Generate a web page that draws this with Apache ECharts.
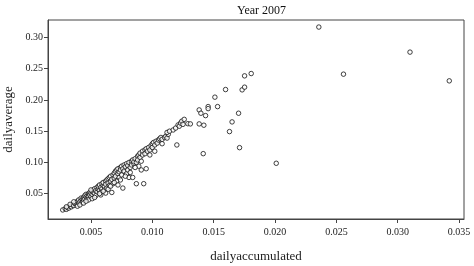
<!DOCTYPE html>
<html>
<head>
<meta charset="utf-8">
<script src="https://cdn.jsdelivr.net/npm/echarts@6/dist/echarts.min.js"></script>
<style>
  html, body { margin: 0; padding: 0; background: #fff; }
  #chart { width: 474px; height: 266px; }
</style>
</head>
<body>
<div id="chart"></div>
<script>
// main band of days, [dailyaccumulated, dailyaverage]
var clusterPoints = [
  [0.0027, 0.024], [0.0029, 0.026], [0.0030, 0.025], [0.0031, 0.028], [0.0032, 0.027],
  [0.0033, 0.030], [0.0034, 0.029], [0.0035, 0.032], [0.0033, 0.033], [0.0030, 0.029],
  [0.0036, 0.031], [0.0037, 0.034], [0.0038, 0.033], [0.0038, 0.036], [0.0039, 0.038],
  [0.0040, 0.035], [0.0040, 0.040], [0.0041, 0.037], [0.0042, 0.039], [0.0042, 0.043],
  [0.0043, 0.041], [0.0043, 0.036], [0.0044, 0.044], [0.0044, 0.040], [0.0045, 0.042],
  [0.0045, 0.047], [0.0039, 0.030], [0.0041, 0.032], [0.0036, 0.037], [0.0044, 0.035],
  [0.0046, 0.045], [0.0046, 0.049], [0.0047, 0.043], [0.0047, 0.047], [0.0048, 0.050],
  [0.0048, 0.046], [0.0049, 0.052], [0.0049, 0.048], [0.0050, 0.051], [0.0050, 0.045],
  [0.0051, 0.054], [0.0051, 0.049], [0.0052, 0.056], [0.0052, 0.052], [0.0053, 0.050],
  [0.0053, 0.058], [0.0054, 0.055], [0.0054, 0.047], [0.0055, 0.060], [0.0055, 0.053],
  [0.0048, 0.040], [0.0051, 0.042], [0.0046, 0.038], [0.0050, 0.056], [0.0053, 0.044],
  [0.0056, 0.057], [0.0056, 0.062], [0.0057, 0.055], [0.0057, 0.064], [0.0058, 0.060],
  [0.0058, 0.052], [0.0059, 0.066], [0.0059, 0.058], [0.0060, 0.063], [0.0060, 0.068],
  [0.0061, 0.061], [0.0061, 0.056], [0.0062, 0.070], [0.0062, 0.065], [0.0063, 0.072],
  [0.0063, 0.059], [0.0064, 0.067], [0.0064, 0.074], [0.0065, 0.063], [0.0065, 0.076],
  [0.0058, 0.048], [0.0062, 0.051], [0.0060, 0.054], [0.0064, 0.057], [0.0057, 0.050],
  [0.0066, 0.070], [0.0066, 0.078], [0.0067, 0.052], [0.0067, 0.073], [0.0068, 0.080],
  [0.0068, 0.066], [0.0069, 0.075], [0.0069, 0.083], [0.0070, 0.078], [0.0070, 0.086],
  [0.0071, 0.070], [0.0071, 0.088], [0.0072, 0.082], [0.0072, 0.090], [0.0073, 0.085],
  [0.0073, 0.076], [0.0074, 0.092], [0.0074, 0.088], [0.0075, 0.080], [0.0075, 0.094],
  [0.0076, 0.059], [0.0072, 0.064], [0.0066, 0.062], [0.0069, 0.068], [0.0074, 0.072],
  [0.0076, 0.090], [0.0077, 0.096], [0.0077, 0.086], [0.0078, 0.093], [0.0079, 0.098],
  [0.0079, 0.082], [0.0080, 0.095], [0.0080, 0.088], [0.0081, 0.076], [0.0081, 0.100],
  [0.0082, 0.092], [0.0083, 0.102], [0.0083, 0.096], [0.0084, 0.076], [0.0084, 0.104],
  [0.0085, 0.098], [0.0085, 0.101], [0.0087, 0.066], [0.0078, 0.078], [0.0082, 0.084],
  [0.0086, 0.106], [0.0087, 0.100], [0.0088, 0.110], [0.0088, 0.104], [0.0089, 0.112],
  [0.0090, 0.108], [0.0090, 0.115], [0.0091, 0.088], [0.0092, 0.118], [0.0092, 0.112],
  [0.0093, 0.066], [0.0094, 0.120], [0.0094, 0.114], [0.0095, 0.090], [0.0095, 0.122],
  [0.0089, 0.094], [0.0086, 0.092], [0.0091, 0.102],
  [0.0096, 0.118], [0.0097, 0.124], [0.0098, 0.120], [0.0099, 0.127], [0.0100, 0.130],
  [0.0100, 0.124], [0.0101, 0.132], [0.0102, 0.128], [0.0103, 0.134], [0.0104, 0.131],
  [0.0105, 0.136], [0.0098, 0.112], [0.0102, 0.118],
  [0.0106, 0.138], [0.0107, 0.140], [0.0108, 0.137], [0.0110, 0.140], [0.0111, 0.142],
  [0.0112, 0.139], [0.0113, 0.145], [0.0112, 0.148], [0.0114, 0.150], [0.0108, 0.130],
  [0.0117, 0.152], [0.0119, 0.155], [0.0120, 0.128], [0.0121, 0.160], [0.0122, 0.158],
  [0.0123, 0.163], [0.0124, 0.166], [0.0125, 0.161], [0.0126, 0.169], [0.0129, 0.162]
]
// the sparse days to the right of the band
var scatteredPoints = [
  [0.0131, 0.1617], [0.01382, 0.1617], [0.0142, 0.1596], [0.01382, 0.1841], [0.01396, 0.1788],
  [0.01434, 0.175], [0.01455, 0.1894], [0.01455, 0.1862], [0.01532, 0.1894], [0.0151, 0.2045],
  [0.01597, 0.2167], [0.01732, 0.2162], [0.01752, 0.2205], [0.01752, 0.2386], [0.01806, 0.2423],
  [0.01703, 0.1788], [0.0165, 0.1649], [0.01629, 0.1494], [0.01415, 0.1141], [0.01711, 0.1237],
  [0.0201, 0.0987], [0.02357, 0.3167], [0.02558, 0.2413], [0.0310, 0.2766], [0.0342, 0.2306]
]
var xTicks = [0.005, 0.010, 0.015, 0.020, 0.025, 0.030, 0.035]
var yTicks = [0.05, 0.10, 0.15, 0.20, 0.25, 0.30]

var font = 'Liberation Serif'
var chart = echarts.init(document.getElementById('chart'))

var pointStyle = {
  color: '#fff',
  borderColor: '#111',
  borderWidth: 1
}

chart.setOption({
  animation: false,
  title: {
    text: 'Year 2007',
    left: 232,
    top: 0,
    textStyle: { fontFamily: font, fontSize: 12, fontWeight: 'normal', color: '#111' }
  },
  grid: {
    left: 48, top: 20, right: 10, bottom: 47,
    outerBoundsMode: 'none',
    containLabel: false,
    show: true,
    borderColor: '#444',
    borderWidth: 1
  },
  xAxis: {
    type: 'value',
    min: 0.0015,
    max: 0.0354,
    name: 'dailyaccumulated',
    nameLocation: 'middle',
    nameGap: 31,
    nameTextStyle: { fontFamily: font, fontSize: 13, color: '#222' },
    axisLine: { show: true, lineStyle: { color: '#444' } },
    axisTick: { show: true, customValues: xTicks, length: 4, lineStyle: { color: '#444' } },
    axisLabel: {
      customValues: xTicks,
      fontFamily: font, fontSize: 10, color: '#222', margin: 8,
      formatter: function (v) { return v.toFixed(3) }
    },
    splitLine: { show: false }
  },
  yAxis: {
    type: 'value',
    min: 0.0095,
    max: 0.328,
    name: 'dailyaverage',
    nameLocation: 'middle',
    nameGap: 30,
    nameTextStyle: { fontFamily: font, fontSize: 13, color: '#222' },
    axisLine: { show: true, lineStyle: { color: '#444' } },
    axisTick: { show: true, customValues: yTicks, length: 4, lineStyle: { color: '#444' } },
    axisLabel: {
      customValues: yTicks,
      fontFamily: font, fontSize: 10, color: '#222', margin: 5,
      formatter: function (v) { return v.toFixed(2) }
    },
    splitLine: { show: false }
  },
  series: [
    {
      type: 'scatter',
      symbol: 'circle',
      symbolSize: 4.5,
      itemStyle: pointStyle,
      data: clusterPoints
    },
    {
      type: 'scatter',
      symbol: 'circle',
      symbolSize: 4.5,
      itemStyle: pointStyle,
      data: scatteredPoints
    }
  ]
})
</script>
</body>
</html>
